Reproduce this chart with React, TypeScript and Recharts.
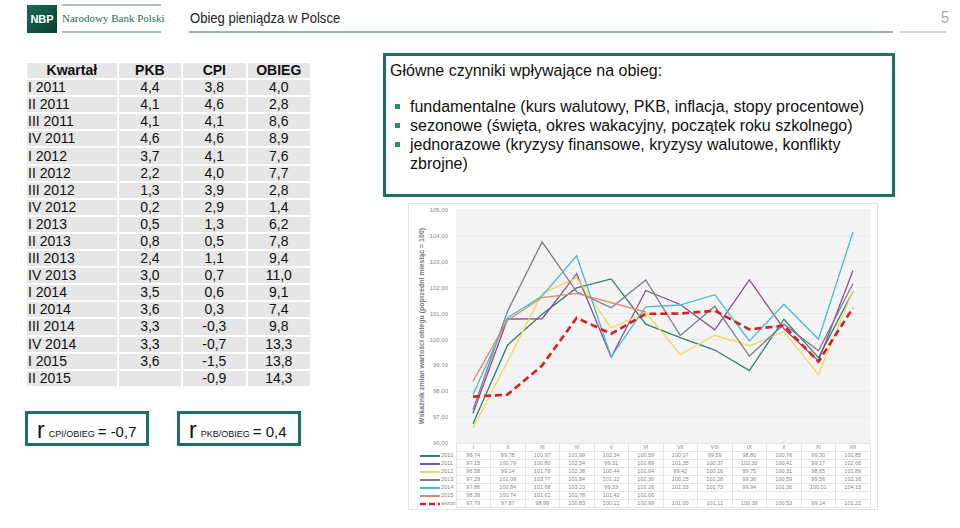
import React from 'react';
import { LineChart, Line, XAxis, YAxis, CartesianGrid } from 'recharts';

const months = ['I', 'II', 'III', 'IV', 'V', 'VI', 'VII', 'VIII', 'IX', 'X', 'XI', 'XII'];
const s2010 = [96.74, 99.78, 100.97, 101.99, 102.34, 100.59, 100.07, 99.59, 98.8, 100.78, 99.3, 101.85];
const s2011 = [97.15, 100.79, 100.8, 102.54, 99.31, 101.89, 101.35, 100.37, 102.3, 100.41, 99.17, 102.66];
const s2012 = [96.58, 99.14, 101.78, 102.38, 100.44, 101.04, 99.42, 100.16, 99.75, 100.31, 98.65, 101.89];
const s2013 = [97.29, 101.09, 103.77, 101.84, 101.22, 102.3, 100.15, 101.28, 99.36, 100.59, 99.56, 102.16];
const s2014 = [97.86, 100.84, 101.68, 103.23, 99.33, 101.26, 101.33, 101.73, 99.94, 101.36, 100.01, 104.15];
const s2015 = [98.39, 100.74, 101.62, 101.78, 101.42, 101.06, null, null, null, null, null, null];
const sezon = [97.79, 97.87, 98.99, 100.83, 100.22, 100.99, 101.0, 101.11, 100.39, 100.53, 99.14, 101.22];
const yTicks = [96, 97, 98, 99, 100, 101, 102, 103, 104, 105];

const quarters = ['I 2011', 'II 2011', 'III 2011', 'IV 2011', 'I 2012', 'II 2012', 'III 2012', 'IV 2012', 'I 2013', 'II 2013', 'III 2013', 'IV 2013', 'I 2014', 'II 2014', 'III 2014', 'IV 2014', 'I 2015', 'II 2015'];
const pkb = [4.4, 4.1, 4.1, 4.6, 3.7, 2.2, 1.3, 0.2, 0.5, 0.8, 2.4, 3.0, 3.5, 3.6, 3.3, 3.3, 3.6, null];
const cpi = [3.8, 4.6, 4.1, 4.6, 4.1, 4.0, 3.9, 2.9, 1.3, 0.5, 1.1, 0.7, 0.6, 0.3, -0.3, -0.7, -1.5, -0.9];
const obieg = [4.0, 2.8, 8.6, 8.9, 7.6, 7.7, 2.8, 1.4, 6.2, 7.8, 9.4, 11.0, 9.1, 7.4, 9.8, 13.3, 13.8, 14.3];

const factors = [
  'fundamentalne (kurs walutowy, PKB, inflacja, stopy procentowe)',
  'sezonowe (święta, okres wakacyjny, początek roku szkolnego)',
  'jednorazowe (kryzysy finansowe, kryzysy walutowe, konflikty zbrojne)',
];

const series = [
  { key: '2010', values: s2010, color: '#2f7f72', width: 1.3, dash: undefined as string | undefined },
  { key: '2011', values: s2011, color: '#8a4f8c', width: 1.3, dash: undefined },
  { key: '2012', values: s2012, color: '#f0d85a', width: 1.3, dash: undefined },
  { key: '2013', values: s2013, color: '#7c7b91', width: 1.3, dash: undefined },
  { key: '2014', values: s2014, color: '#45bdd0', width: 1.3, dash: undefined },
  { key: '2015', values: s2015, color: '#e08868', width: 1.3, dash: undefined },
  { key: 'sezon', values: sezon, color: '#d2202a', width: 2.6, dash: '7 4' },
];

const chartData = months.map((m, i) => {
  const row: Record<string, string | number | null> = { m };
  series.forEach((s) => {
    row[s.key] = s.values[i];
  });
  return row;
});

const fmt1 = (v: number | null) => (v === null ? '' : v.toFixed(1).replace('.', ','));
const fmt2 = (v: number | null) => (v === null ? '' : v.toFixed(2).replace('.', ','));

const SANS = 'Arial, "Liberation Sans", sans-serif';
const TEAL = '#1d6f62';

const YLabel = () => (
  <text
    x={13}
    y={123}
    transform="rotate(-90 13 123)"
    textAnchor="middle"
    dominantBaseline="central"
    fontSize={7}
    fontWeight="bold"
    fill="#777"
    fontFamily={SANS}
  >
    Wskaźnik zmian wartości obiegu  (poprzedni miesiąc = 100)
  </text>
);

function LeftTable() {
  const cellBase: React.CSSProperties = {
    background: '#e6e6e6',
    height: 15.1,
    padding: 0,
    lineHeight: '15px',
    fontSize: 14,
    color: '#111',
    whiteSpace: 'nowrap',
  };
  return (
    <table
      style={{
        position: 'absolute',
        left: 25,
        top: 61,
        borderCollapse: 'separate',
        borderSpacing: 2,
        fontFamily: SANS,
        tableLayout: 'fixed',
        width: 287,
      }}
    >
      <colgroup>
        <col style={{ width: 89 }} />
        <col style={{ width: 62 }} />
        <col style={{ width: 62 }} />
        <col style={{ width: 62 }} />
      </colgroup>
      <tbody>
        <tr>
          <td style={{ ...cellBase, fontWeight: 'bold', textAlign: 'center' }}>Kwartał</td>
          <td style={{ ...cellBase, fontWeight: 'bold', textAlign: 'center' }}>PKB</td>
          <td style={{ ...cellBase, fontWeight: 'bold', textAlign: 'center' }}>CPI</td>
          <td style={{ ...cellBase, fontWeight: 'bold', textAlign: 'center' }}>OBIEG</td>
        </tr>
        {quarters.map((q, i) => (
          <tr key={q}>
            <td style={{ ...cellBase, textAlign: 'left', paddingLeft: 1 }}>{q}</td>
            <td style={{ ...cellBase, textAlign: 'center' }}>{fmt1(pkb[i])}</td>
            <td style={{ ...cellBase, textAlign: 'center' }}>{fmt1(cpi[i])}</td>
            <td style={{ ...cellBase, textAlign: 'center' }}>{fmt1(obieg[i])}</td>
          </tr>
        ))}
      </tbody>
    </table>
  );
}

function CorrBox({ left, sub, value }: { left: number; sub: string; value: string }) {
  return (
    <div
      style={{
        position: 'absolute',
        left,
        top: 411,
        width: 109,
        height: 29,
        border: `3px solid ${TEAL}`,
        fontFamily: SANS,
        color: '#111',
        display: 'flex',
        alignItems: 'flex-end',
        paddingLeft: 9,
        boxSizing: 'content-box',
        whiteSpace: 'nowrap',
      }}
    >
      <span style={{ fontSize: 23, lineHeight: '26px' }}>r</span>
      <span style={{ fontSize: 9, lineHeight: '17px', marginLeft: 4 }}>{sub}</span>
      <span style={{ fontSize: 15, lineHeight: '22px', marginLeft: 3 }}>= {value}</span>
    </div>
  );
}

function FactorsBox() {
  return (
    <div
      style={{
        position: 'absolute',
        left: 383,
        top: 53,
        width: 506,
        height: 138,
        border: `3px solid ${TEAL}`,
        fontFamily: SANS,
        fontSize: 16,
        color: '#111',
      }}
    >
      <div style={{ position: 'absolute', left: 4, top: 5, lineHeight: '19px', whiteSpace: 'nowrap' }}>
        Główne czynniki wpływające na obieg:
      </div>
      <div style={{ position: 'absolute', left: 5, top: 41, width: 492 }}>
        {factors.map((f) => (
          <div key={f} style={{ position: 'relative', paddingLeft: 19, lineHeight: '19px' }}>
            <span
              style={{
                position: 'absolute',
                left: 4,
                top: 7,
                width: 5,
                height: 5,
                background: '#2e8a6c',
              }}
            />
            {f}
          </div>
        ))}
      </div>
    </div>
  );
}

function Header() {
  return (
    <>
      <div
        style={{
          position: 'absolute',
          left: 27,
          top: 5,
          width: 30,
          height: 28,
          background: 'linear-gradient(135deg, #1b6a55 0%, #0c3f33 100%)',
          color: '#fff',
          fontFamily: SANS,
          fontWeight: 'bold',
          fontSize: 11,
          lineHeight: '28px',
          textAlign: 'center',
        }}
      >
        NBP
      </div>
      <div style={{ position: 'absolute', left: 62, top: 4, width: 99, height: 2, background: '#a9bfb8' }} />
      <div style={{ position: 'absolute', left: 62, top: 31, width: 99, height: 2, background: '#a9bfb8' }} />
      <div
        style={{
          position: 'absolute',
          left: 62,
          top: 10,
          fontFamily: '"Liberation Serif", "DejaVu Serif", serif',
          fontSize: 11,
          color: '#1f6b55',
          whiteSpace: 'nowrap',
          lineHeight: '16px',
        }}
      >
        Narodowy Bank Polski
      </div>
      <div
        style={{
          position: 'absolute',
          left: 190,
          top: 9,
          fontFamily: SANS,
          fontSize: 15,
          color: '#222',
          lineHeight: '18px',
          whiteSpace: 'nowrap',
          transform: 'scaleX(0.87)',
          transformOrigin: 'left center',
        }}
      >
        Obieg pieniądza w Polsce
      </div>
      <div style={{ position: 'absolute', left: 189, top: 31, width: 704, height: 2, background: '#9fb5ae' }} />
      <div
        style={{
          position: 'absolute',
          left: 941,
          top: 8,
          fontFamily: SANS,
          fontSize: 17,
          color: '#aaa',
          lineHeight: '20px',
          transform: 'scaleX(0.85)',
          transformOrigin: 'left center',
        }}
      >
        5
      </div>
      <div style={{ position: 'absolute', left: 900, top: 31, width: 46, height: 2, background: '#c9d6d2' }} />
    </>
  );
}

function LegendSample({ color, dash }: { color: string; dash?: string }) {
  return (
    <svg width={20} height={6} style={{ display: 'inline-block', verticalAlign: 'middle' }}>
      <line x1={0} y1={3} x2={20} y2={3} stroke={color} strokeWidth={dash ? 2.4 : 2} strokeDasharray={dash ? '6 3' : undefined} />
    </svg>
  );
}

function DataTable() {
  const td: React.CSSProperties = {
    border: '1px solid #e6e6e6',
    height: 7,
    padding: 0,
    fontSize: 5.5,
    color: '#888',
    textAlign: 'center',
    lineHeight: '7px',
    width: 34.5,
  };
  return (
    <table
      style={{
        position: 'absolute',
        left: 410,
        top: 443,
        borderCollapse: 'collapse',
        fontFamily: SANS,
        tableLayout: 'fixed',
        width: 460,
      }}
    >
      <colgroup>
        <col style={{ width: 46 }} />
        {months.map((m) => (
          <col key={m} style={{ width: 34.5 }} />
        ))}
      </colgroup>
      <tbody>
        <tr>
          <td style={{ ...td, border: 'none' }} />
          {months.map((m) => (
            <td key={m} style={td}>{m}</td>
          ))}
        </tr>
        {series.map((s) => (
          <tr key={s.key}>
            <td style={{ ...td, textAlign: 'left', border: 'none', whiteSpace: 'nowrap', paddingLeft: 10 }}>
              <LegendSample color={s.color} dash={s.dash} />
              <span style={{ marginLeft: 1 }}>{s.key}</span>
            </td>
            {s.values.map((v, i) => (
              <td key={i} style={td}>{fmt2(v)}</td>
            ))}
          </tr>
        ))}
      </tbody>
    </table>
  );
}

export default function App() {
  return (
    <div
      style={{
        position: 'absolute',
        left: 0,
        top: 0,
        width: 960,
        height: 528,
        background: '#fff',
        overflow: 'hidden',
      }}
    >
      <Header />
      <LeftTable />
      <CorrBox left={25} sub="CPI/OBIEG" value="-0,7" />
      <CorrBox left={177} sub="PKB/OBIEG" value="0,4" />
      <FactorsBox />
      <div
        style={{
          position: 'absolute',
          left: 408,
          top: 203,
          width: 470,
          height: 307,
          border: '1px solid #e2e2e2',
          boxSizing: 'border-box',
          background: '#fff',
        }}
      />
      <div style={{ position: 'absolute', left: 408, top: 203 }}>
        <LineChart width={470} height={246} data={chartData} margin={{ top: 7, right: 8, left: 0, bottom: 6 }}>
          <CartesianGrid vertical={false} fill="#f3f3f3" stroke="#e9e9e9" />
          <XAxis dataKey="m" hide padding={{ left: 17, right: 17 }} />
          <YAxis
            domain={[96, 105]}
            ticks={yTicks}
            width={48}
            axisLine={false}
            tickLine={false}
            tickFormatter={(v: number) => fmt2(v)}
            tick={{ fontSize: 6, fill: '#888', fontFamily: SANS }}
            label={{ content: () => <YLabel /> }}
          />
          {series.map((s) => (
            <Line
              key={s.key}
              dataKey={s.key}
              stroke={s.color}
              strokeWidth={s.width}
              strokeDasharray={s.dash}
              dot={false}
              activeDot={false}
              isAnimationActive={false}
              type="linear"
            />
          ))}
        </LineChart>
      </div>
      <DataTable />
    </div>
  );
}
